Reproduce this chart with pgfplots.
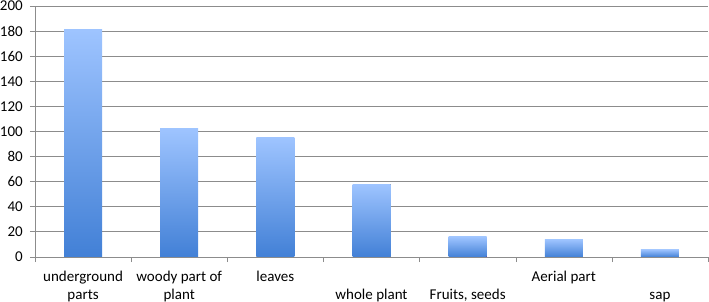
\documentclass[border=0pt]{standalone}
\usepackage{pgfplots}
\pgfplotsset{compat=1.18}
\usepackage{fontspec}
\setmainfont{Carlito}
\definecolor{bartop}{RGB}{158,196,255}
\definecolor{barbot}{RGB}{66,128,214}
\definecolor{gridc}{RGB}{140,140,140}
\begin{document}
\fontsize{15}{18}\selectfont
\begin{tikzpicture}
\begin{axis}[
  scale only axis,
  width=673pt, height=251pt,
  xmin=-0.5, xmax=6.5,
  ymin=0, ymax=200,
  ytick={0,20,...,200},
  xtick={0,...,6},
  xticklabels={underground\\parts, woody part of\\plant, leaves\\\strut, \strut\\whole plant, {\strut\\Fruits, seeds}, Aerial part\\\strut, \strut\\sap},
  x tick label style={align=center, font=\fontsize{15}{18}\selectfont, anchor=base, inner sep=0pt, yshift=-37pt},
  xticklabel shift=0pt,
  y tick label style={font=\fontsize{15}{18}\selectfont, inner sep=0pt, anchor=east, xshift=-7pt},
  /pgf/number format/assume math mode=true,
  major x tick style={draw=none},
  minor xtick={-0.5,0.5,...,6.5},
  minor x tick style={gridc},
  tick align=outside,
  major tick length=5pt,
  minor tick length=5pt,
  ymajorgrids,
  grid style={gridc, line width=0.9pt},
  y tick style={gridc, line width=0.9pt},
  axis x line*=bottom,
  axis y line*=left,
  axis line style={gridc, line width=0.9pt},
  ybar, bar width=38pt, bar shift=0pt,
  every axis plot/.append style={draw=none, top color=bartop, bottom color=barbot},
  enlargelimits=false,
]
\addplot coordinates {(0,181)};
\addplot coordinates {(1,102)};
\addplot coordinates {(2,95)};
\addplot coordinates {(3,58)};
\addplot coordinates {(4,16)};
\addplot coordinates {(5,14)};
\addplot coordinates {(6,6)};
\end{axis}
\pgfresetboundingbox
\path ([shift={(-35pt,-45pt)}]current axis.south west) rectangle ([shift={(1pt,6pt)}]current axis.north east);
\end{tikzpicture}
\end{document}
